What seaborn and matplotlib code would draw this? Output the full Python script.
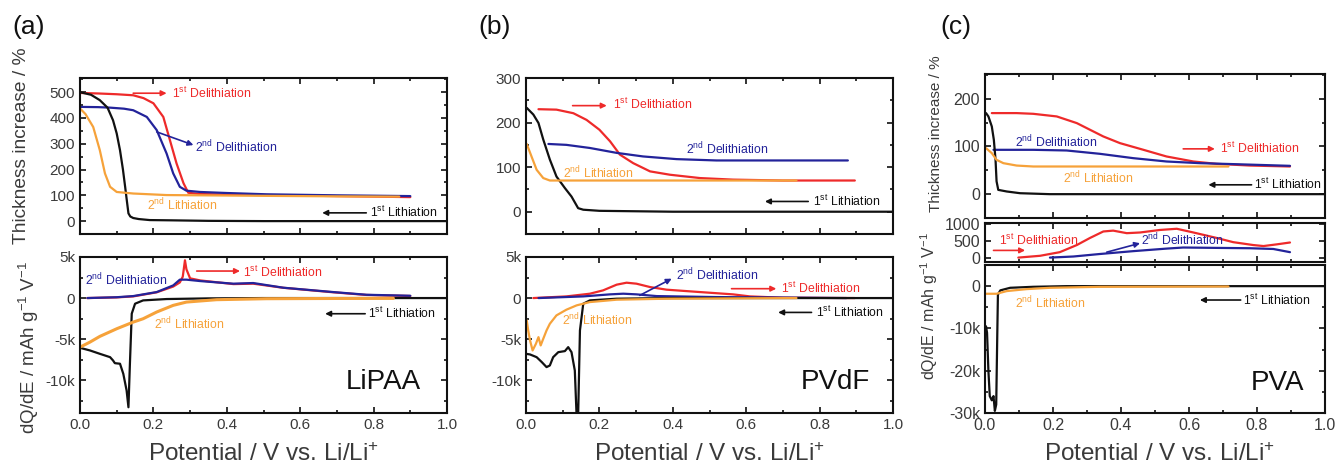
import numpy as np
import pandas as pd
import matplotlib
matplotlib.use("Agg")
import matplotlib.pyplot as plt
import seaborn as sns
from matplotlib.ticker import MultipleLocator, FuncFormatter

# ---- data ----
# (a) LiPAA, thickness increase (%)
a_thk_lith1_x = [0.0, 0.03, 0.054, 0.075, 0.09, 0.1, 0.109, 0.117, 0.123, 0.128, 0.132, 0.137, 0.145, 0.16, 0.19, 0.25, 0.35, 0.5, 0.7, 1.0]
a_thk_lith1_y = [500, 490, 469, 440, 391, 340, 275, 200, 133, 75, 30, 18, 12, 8, 4, 3, 1, 0, 0, 0]
a_thk_lith2_x = [0.0, 0.015, 0.036, 0.054, 0.068, 0.082, 0.1, 0.145, 0.236, 0.33, 0.5, 0.7, 0.87]
a_thk_lith2_y = [437, 415, 365, 275, 185, 133, 113, 107, 101, 100, 98, 96, 95]
a_thk_delith1_x = [0.0, 0.05, 0.1, 0.145, 0.173, 0.2, 0.227, 0.245, 0.263, 0.282, 0.295, 0.327, 0.4, 0.508, 0.7, 0.9]
a_thk_delith1_y = [497, 495, 492, 488, 477, 457, 404, 314, 224, 147, 110, 105, 103, 101, 97, 93]
a_thk_delith2_x = [0.0, 0.05, 0.082, 0.12, 0.145, 0.182, 0.209, 0.236, 0.254, 0.272, 0.29, 0.327, 0.4, 0.508, 0.7, 0.9]
a_thk_delith2_y = [443, 442, 440, 436, 430, 404, 353, 262, 185, 133, 118, 113, 109, 104, 100, 97]

# (a) LiPAA, dQ/dE (mAh g-1 V-1)
a_dq_delith1_x = [0.02, 0.1, 0.145, 0.209, 0.254, 0.272, 0.28, 0.286, 0.29, 0.3, 0.327, 0.418, 0.472, 0.554, 0.69, 0.78, 0.9]
a_dq_delith1_y = [0, 80, 200, 700, 1400, 1900, 2600, 4600, 3500, 2400, 2150, 1700, 1750, 1250, 700, 380, 250]
a_dq_delith2_x = [0.02, 0.1, 0.145, 0.209, 0.254, 0.272, 0.29, 0.327, 0.418, 0.472, 0.554, 0.69, 0.781, 0.9]
a_dq_delith2_y = [0, 100, 240, 730, 1540, 2240, 2240, 2070, 1750, 1830, 1260, 730, 400, 280]
a_dq_lith1_x = [0.0, 0.027, 0.054, 0.082, 0.09, 0.095, 0.109, 0.118, 0.127, 0.132, 0.136, 0.141, 0.15, 0.172, 0.236, 0.35, 0.5, 1.0]
a_dq_lith1_y = [-6060, -6380, -6790, -7200, -7600, -7930, -8000, -9230, -11260, -13300, -8000, -1900, -690, -285, -120, -40, 0, 0]
a_dq_lith2_x = [0.0, 0.027, 0.054, 0.1, 0.145, 0.172, 0.209, 0.254, 0.29, 0.372, 0.508, 0.7, 0.854]
a_dq_lith2_y = [-5980, -5370, -4670, -3740, -2930, -2520, -1700, -890, -490, -200, -80, -50, -40]

# (b) PVdF, thickness increase (%)
b_thk_lith1_x = [0.002, 0.02, 0.034, 0.047, 0.065, 0.083, 0.106, 0.124, 0.142, 0.156, 0.2, 0.4, 1.0]
b_thk_lith1_y = [233, 218, 199, 162, 117, 79, 53, 34, 8, 4.5, 2, 0, 0]
b_thk_lith2_x = [0.002, 0.015, 0.029, 0.047, 0.065, 0.156, 0.4, 0.737]
b_thk_lith2_y = [152, 124, 94, 75.5, 70, 70, 70, 70]
b_thk_delith1_x = [0.034, 0.083, 0.129, 0.165, 0.2, 0.229, 0.256, 0.292, 0.338, 0.392, 0.474, 0.564, 0.7, 0.896]
b_thk_delith1_y = [230, 229, 221, 206, 184, 158, 128, 109, 90.5, 83, 75.5, 72, 70, 70]
b_thk_delith2_x = [0.061, 0.11, 0.174, 0.247, 0.319, 0.41, 0.519, 0.7, 0.877]
b_thk_delith2_y = [152, 150, 143, 132, 124, 118, 115, 115, 115]

# (b) PVdF, dQ/dE
b_dq_delith1_x = [0.02, 0.11, 0.174, 0.21, 0.247, 0.274, 0.301, 0.338, 0.383, 0.474, 0.564, 0.61, 0.7, 0.896]
b_dq_delith1_y = [0, 200, 530, 935, 1630, 1870, 1750, 1340, 1020, 730, 450, 200, 40, 0]
b_dq_delith2_x = [0.034, 0.156, 0.229, 0.265, 0.301, 0.356, 0.519, 0.873]
b_dq_delith2_y = [0, 200, 450, 530, 450, 240, 120, 0]
b_dq_lith1_x = [0.0, 0.011, 0.029, 0.043, 0.056, 0.065, 0.074, 0.088, 0.106, 0.115, 0.124, 0.133, 0.138, 0.142, 0.147, 0.156, 0.174, 0.247, 0.4, 1.0]
b_dq_lith1_y = [-6790, -6870, -7200, -7800, -8410, -8210, -7200, -6590, -6460, -5980, -6590, -8820, -14500, -14500, -3940, -690, -285, -80, 0, 0]
b_dq_lith2_x = [0.002, 0.006, 0.011, 0.018, 0.027, 0.034, 0.04, 0.047, 0.056, 0.065, 0.083, 0.11, 0.138, 0.174, 0.247, 0.383, 0.737]
b_dq_lith2_y = [-2720, -3940, -5160, -6380, -5570, -4760, -5770, -4960, -3940, -3130, -2110, -1420, -890, -490, -200, -80, 0]

# (c) PVA, thickness increase (%)
c_thk_lith1_x = [0.003, 0.01, 0.02, 0.026, 0.031, 0.034, 0.039, 0.064, 0.103, 0.19, 1.0]
c_thk_lith1_y = [170, 163, 142, 114, 72, 27, 9, 5.6, 2, 0, 0]
c_thk_lith2_x = [0.003, 0.02, 0.034, 0.054, 0.093, 0.142, 0.4, 0.716]
c_thk_lith2_y = [96.5, 86, 72, 65, 60, 58, 58, 58]
c_thk_delith1_x = [0.02, 0.093, 0.142, 0.211, 0.27, 0.309, 0.348, 0.397, 0.466, 0.534, 0.613, 0.681, 0.779, 0.897]
c_thk_delith1_y = [170, 170, 168.5, 163, 149, 135, 121, 107, 93, 79, 68.5, 63.6, 60, 58]
c_thk_delith2_x = [0.025, 0.142, 0.24, 0.338, 0.436, 0.534, 0.632, 0.73, 0.897]
c_thk_delith2_y = [93, 93, 91.6, 84.6, 75.5, 68.5, 65, 63, 59.4]

# (c) PVA, dQ/dE positive branch (middle strip)
c_dqp_delith1_x = [0.098, 0.162, 0.22, 0.27, 0.309, 0.348, 0.377, 0.417, 0.456, 0.515, 0.564, 0.613, 0.681, 0.73, 0.789, 0.819, 0.858, 0.897]
c_dqp_delith1_y = [0, 53, 160, 370, 580, 770, 795, 720, 740, 815, 850, 740, 580, 455, 370, 340, 390, 445]
c_dqp_delith2_x = [0.191, 0.26, 0.338, 0.436, 0.534, 0.583, 0.681, 0.779, 0.848, 0.897]
c_dqp_delith2_y = [0, 32, 106, 190, 265, 297, 286, 276, 254, 160]

# (c) PVA, dQ/dE negative branch
c_dqn_lith1_x = [0.003, 0.006, 0.01, 0.014, 0.02, 0.025, 0.029, 0.033, 0.036, 0.038, 0.045, 0.074, 0.142, 0.24, 1.0]
c_dqn_lith1_y = [-9500, -11000, -20000, -26000, -27000, -26000, -29500, -28000, -12000, -2000, -1000, -390, -156, 0, 0]
c_dqn_lith2_x = [0.003, 0.034, 0.064, 0.123, 0.191, 0.338, 0.716]
c_dqn_lith2_y = [-1800, -1800, -1170, -700, -390, -156, -78]

RED = "#ee2a2a"
BLUE = "#23239a"
ORANGE = "#f6a23a"
BLACK = "#111111"
TXT = "#3a3a3a"

sns.set_style("ticks")
plt.rcParams["font.family"] = ["Liberation Sans", "DejaVu Sans"]
plt.rcParams["mathtext.fontset"] = "custom"
plt.rcParams["mathtext.rm"] = "Liberation Sans"
plt.rcParams["mathtext.it"] = "Liberation Sans:italic"
plt.rcParams["axes.unicode_minus"] = False

W, H = 1336, 468
fig = plt.figure(figsize=(W / 100, H / 100), dpi=100)


def px_axes(left, right, top, bottom):
    return fig.add_axes([left / W, 1 - bottom / H, (right - left) / W, (bottom - top) / H])


def kfmt(v, pos):
    if abs(v) < 1e-9:
        return "0"
    return f"{int(round(v / 1000))}k"


def style(ax, ylim, ymajor, yminor, xlabels, fs=11, kformat=False):
    ax.set_xlim(0, 1)
    ax.set_ylim(*ylim)
    ax.xaxis.set_major_locator(MultipleLocator(0.2))
    ax.xaxis.set_minor_locator(MultipleLocator(0.1))
    ax.yaxis.set_major_locator(MultipleLocator(ymajor))
    if yminor:
        ax.yaxis.set_minor_locator(MultipleLocator(yminor))
    ax.tick_params(which="both", direction="in", top=True, right=True, colors=BLACK,
                   labelcolor=TXT, labelsize=fs, width=1.2)
    ax.tick_params(which="major", length=4.5)
    ax.tick_params(which="minor", length=2.5)
    ax.xaxis.set_major_formatter(FuncFormatter(lambda v, p: f"{v:.1f}"))
    if kformat:
        ax.yaxis.set_major_formatter(FuncFormatter(kfmt))
    if not xlabels:
        ax.tick_params(axis="x", labelbottom=False)
    for s in ax.spines.values():
        s.set_linewidth(1.5)
        s.set_color(BLACK)
    ax.set_xlabel("")
    ax.set_ylabel("")


def curve(ax, xs, ys, color, lw=1.6):
    sns.lineplot(x=xs, y=ys, ax=ax, color=color, lw=lw, sort=False, estimator=None, legend=False)


def note(ax, x, y, text, color, fs=8.8):
    ax.text(x, y, text, color=color, fontsize=fs, ha="left", va="center")


def arrow(ax, x0, y0, x1, y1, color):
    ax.annotate("", xy=(x1, y1), xytext=(x0, y0),
                arrowprops=dict(arrowstyle="-|>", color=color, lw=1.2, mutation_scale=8,
                                shrinkA=0, shrinkB=0))


D1 = r"1$^{\mathrm{st}}$ Delithiation"
D2 = r"2$^{\mathrm{nd}}$ Delithiation"
L1 = r"1$^{\mathrm{st}}$ Lithiation"
L2 = r"2$^{\mathrm{nd}}$ Lithiation"
XLAB = r"Potential / V vs. Li/Li$^{+}$"
YTHK = "Thickness increase / %"
YDQ = r"dQ/dE / mAh g$^{-1}$ V$^{-1}$"

# ---------------- (a) LiPAA ----------------
ax = px_axes(80, 447, 78, 234)
curve(ax, a_thk_delith1_x, a_thk_delith1_y, RED)
curve(ax, a_thk_delith2_x, a_thk_delith2_y, BLUE)
curve(ax, a_thk_lith1_x, a_thk_lith1_y, BLACK)
curve(ax, a_thk_lith2_x, a_thk_lith2_y, ORANGE)
style(ax, (-50, 555), 100, 50, False)
arrow(ax, 0.145, 496, 0.236, 496, RED)
note(ax, 0.25, 496, D1, RED)
arrow(ax, 0.209, 346, 0.309, 295, BLUE)
note(ax, 0.313, 287, D2, BLUE)
note(ax, 0.182, 62, L2, ORANGE)
arrow(ax, 0.78, 32, 0.66, 32, BLACK)
note(ax, 0.79, 32, L1, BLACK)

ax = px_axes(80, 447, 257, 413)
curve(ax, a_dq_delith1_x, a_dq_delith1_y, RED)
curve(ax, a_dq_delith2_x, a_dq_delith2_y, BLUE)
curve(ax, a_dq_lith1_x, a_dq_lith1_y, BLACK)
curve(ax, a_dq_lith2_x, a_dq_lith2_y, ORANGE, lw=2.2)
style(ax, (-14000, 5000), 5000, 2500, True, kformat=True)
note(ax, 0.014, 2150, D2, BLUE)
arrow(ax, 0.318, 3290, 0.436, 3290, RED)
note(ax, 0.445, 3170, D1, RED)
note(ax, 0.202, -3210, L2, ORANGE)
arrow(ax, 0.777, -1910, 0.668, -1910, BLACK)
note(ax, 0.785, -1910, L1, BLACK)
ax.text(0.93, -10240, "LiPAA", fontsize=20, color=BLACK, ha="right", va="center")

# ---------------- (b) PVdF ----------------
ax = px_axes(526, 893, 78, 234)
curve(ax, b_thk_delith1_x, b_thk_delith1_y, RED)
curve(ax, b_thk_delith2_x, b_thk_delith2_y, BLUE)
curve(ax, b_thk_lith1_x, b_thk_lith1_y, BLACK)
curve(ax, b_thk_lith2_x, b_thk_lith2_y, ORANGE)
style(ax, (-50, 300), 100, 50, False)
arrow(ax, 0.127, 238, 0.22, 238, RED)
note(ax, 0.236, 240, D1, RED)
note(ax, 0.436, 141, D2, BLUE)
note(ax, 0.102, 87, L2, ORANGE)
arrow(ax, 0.769, 23, 0.651, 23, BLACK)
note(ax, 0.782, 23, L1, BLACK)

ax = px_axes(526, 893, 257, 413)
curve(ax, b_dq_delith1_x, b_dq_delith1_y, RED)
curve(ax, b_dq_delith2_x, b_dq_delith2_y, BLUE)
curve(ax, b_dq_lith1_x, b_dq_lith1_y, BLACK)
curve(ax, b_dq_lith2_x, b_dq_lith2_y, ORANGE)
style(ax, (-14000, 5000), 5000, 2500, True, kformat=True)
arrow(ax, 0.31, 325, 0.397, 2360, BLUE)
note(ax, 0.41, 2760, D2, BLUE)
arrow(ax, 0.56, 1140, 0.682, 1140, RED)
note(ax, 0.696, 1140, D1, RED)
note(ax, 0.097, -2640, L2, ORANGE)
arrow(ax, 0.778, -1750, 0.687, -1750, BLACK)
note(ax, 0.789, -1750, L1, BLACK)
ax.text(0.938, -10240, "PVdF", fontsize=20, color=BLACK, ha="right", va="center")

# ---------------- (c) PVA ----------------
ax = px_axes(985, 1325, 74, 218)
curve(ax, c_thk_delith1_x, c_thk_delith1_y, RED)
curve(ax, c_thk_delith2_x, c_thk_delith2_y, BLUE)
curve(ax, c_thk_lith1_x, c_thk_lith1_y, BLACK)
curve(ax, c_thk_lith2_x, c_thk_lith2_y, ORANGE)
style(ax, (-50, 252), 100, 50, False, fs=11.5)
note(ax, 0.088, 109, D2, BLUE)
arrow(ax, 0.583, 95, 0.676, 95, RED)
note(ax, 0.69, 96.5, D1, RED)
note(ax, 0.228, 33.6, L2, ORANGE)
arrow(ax, 0.784, 19.6, 0.657, 19.6, BLACK)
note(ax, 0.792, 19.6, L1, BLACK)

ax = px_axes(985, 1325, 223, 262)
curve(ax, c_dqp_delith1_x, c_dqp_delith1_y, RED)
curve(ax, c_dqp_delith2_x, c_dqp_delith2_y, BLUE)
style(ax, (-130, 1020), 500, None, False, fs=11.5)
arrow(ax, 0.025, 212, 0.118, 212, RED)
note(ax, 0.042, 510, D1, RED)
arrow(ax, 0.358, 160, 0.456, 424, BLUE)
note(ax, 0.458, 510, D2, BLUE)

ax = px_axes(985, 1325, 265, 413)
curve(ax, c_dqn_lith1_x, c_dqn_lith1_y, BLACK)
curve(ax, c_dqn_lith2_x, c_dqn_lith2_y, ORANGE)
style(ax, (-30000, 5000), 10000, 5000, True, fs=11.5, kformat=True)
note(ax, 0.088, -3900, L2, ORANGE)
arrow(ax, 0.752, -3280, 0.632, -3280, BLACK)
note(ax, 0.76, -3280, L1, BLACK)
ax.text(0.938, -22900, "PVA", fontsize=20, color=BLACK, ha="right", va="center")

# ---------------- figure-level labels ----------------
for x, lab in [(12, "(a)"), (478, "(b)"), (940, "(c)")]:
    fig.text(x / W, 1 - 27 / H, lab, fontsize=19, color=BLACK, ha="left", va="center")

for cx in [263.5, 709.5, 1160]:
    fig.text(cx / W, 1 - 455 / H, XLAB, fontsize=17.5, color=TXT, ha="center", va="center")

fig.text(22 / W, 1 - 146 / H, YTHK, fontsize=13.8, color=TXT, rotation=90, ha="center", va="center")
fig.text(29 / W, 1 - 348 / H, YDQ, fontsize=13.5, color=TXT, rotation=90, ha="center", va="center")
fig.text(936 / W, 1 - 134 / H, YTHK, fontsize=11, color=TXT, rotation=90, ha="center", va="center")
fig.text(929 / W, 1 - 306 / H, YDQ, fontsize=11.5, color=TXT, rotation=90, ha="center", va="center")

fig.savefig("out.png", dpi=100)
